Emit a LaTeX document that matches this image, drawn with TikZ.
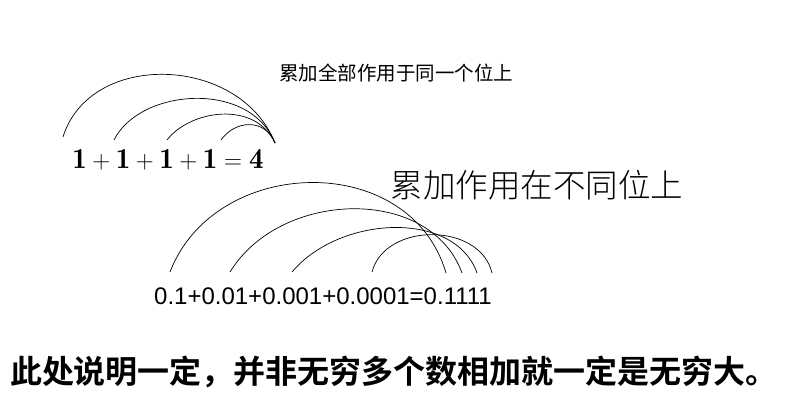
\documentclass[tikz,border=0pt]{standalone}
\usepackage{fontspec}
\newfontfamily\cjk{Noto Sans CJK SC}
\newfontfamily\cjkb{Noto Sans CJK SC Bold}
\newfontfamily\cjkl{Noto Sans CJK SC Light}
\setsansfont{Liberation Sans}
\begin{document}
\begin{tikzpicture}[x=1pt,y=-1pt,arc/.style={line width=0.7pt,black}]
\useasboundingbox (0,0) rectangle (788,402);
\node (t1) at (396,73) {\cjk\fontsize{19.5}{22}\selectfont 累加全部作用于同一个位上};
\node (e1) at (168,160) {\fontsize{29}{34}\selectfont $\mathbf{1+1+1+1=4}$};
\node (t2) at (537,185) {\cjkl\fontsize{32.5}{38}\selectfont 累加作用在不同位上};
\node (e2) at (323,296) {\sffamily\fontsize{24}{28}\selectfont 0.1+0.01+0.001+0.0001=0.1111};
\node (t3) at (394,372) {\cjkb\fontsize{32}{38}\selectfont 此处说明一定，并非无穷多个数相加就一定是无穷大。};
\coordinate (a1) at (63,137); \coordinate (a2) at (114,140);
\coordinate (a3) at (167,140); \coordinate (a4) at (221,140);
\coordinate (a5) at (275,143);
\draw[arc] (a1) .. controls (90,50) and (240,55) .. (a5);
\draw[arc] (a2) .. controls (140,88) and (250,80) .. (a5);
\draw[arc] (a3) .. controls (190,110) and (255,100) .. (a5);
\draw[arc] (a4) .. controls (235,120) and (265,118) .. (a5);
\coordinate (b1) at (170,272); \coordinate (b2) at (230,272);
\coordinate (b3) at (292,272); \coordinate (b4) at (372,272);
\coordinate (c1) at (446,273); \coordinate (c2) at (462,273);
\coordinate (c3) at (477,273); \coordinate (c4) at (492,273);
\draw[arc] (b1) .. controls (215,155) and (410,150) .. (c1);
\draw[arc] (b2) .. controls (280,190) and (430,185) .. (c2);
\draw[arc] (b3) .. controls (340,215) and (455,210) .. (c3);
\draw[arc] (b4) .. controls (385,222) and (480,222) .. (c4);
\end{tikzpicture}
\end{document}
